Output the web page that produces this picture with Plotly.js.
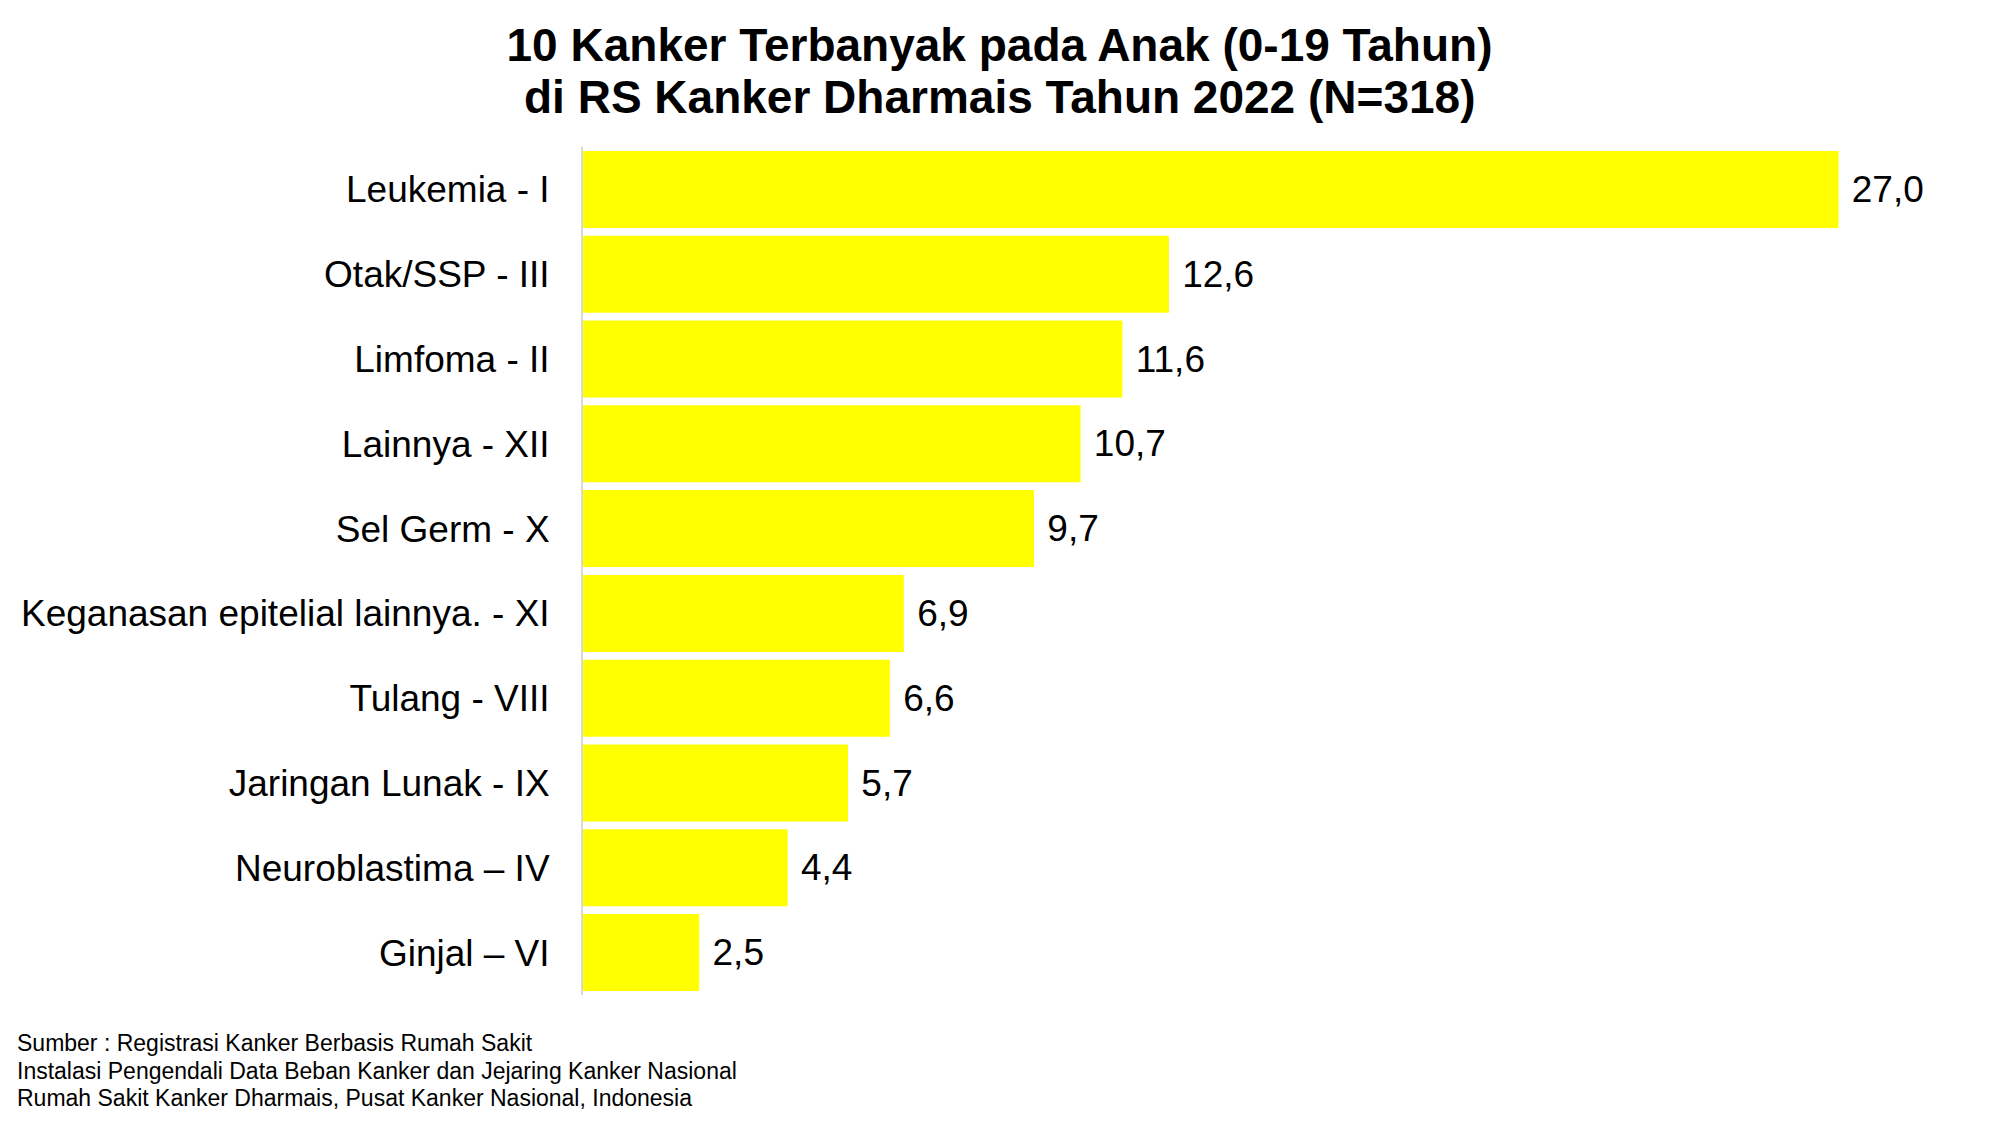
<!DOCTYPE html>
<html>
<head>
<meta charset="utf-8">
<script src="https://cdn.plot.ly/plotly-3.0.1.min.js"></script>
<style>html,body{margin:0;padding:0;background:#fff;}#chart{width:1999px;height:1126px;}</style>
</head>
<body>
<div id="chart"></div>
<script>
var categories = [
  "Leukemia - I",
  "Otak/SSP - III",
  "Limfoma - II",
  "Lainnya - XII",
  "Sel Germ - X",
  "Keganasan epitelial lainnya. - XI",
  "Tulang - VIII",
  "Jaringan Lunak - IX",
  "Neuroblastima \u2013 IV",
  "Ginjal \u2013 VI"
];
var values = [27.0, 12.6, 11.6, 10.7, 9.7, 6.9, 6.6, 5.7, 4.4, 2.5];
var titleLines = [
  "10 Kanker Terbanyak pada Anak (0-19 Tahun)",
  "di RS Kanker Dharmais Tahun 2022 (N=318)"
];
var footerLines = [
  "Sumber : Registrasi Kanker Berbasis Rumah Sakit",
  "Instalasi Pengendali Data Beban Kanker dan Jejaring Kanker Nasional",
  "Rumah Sakit Kanker Dharmais, Pusat Kanker Nasional, Indonesia"
];

var FONT = "Liberation Sans, Arial, sans-serif";
var W = 1999, H = 1126;
var mL = 583, mR = 21, mT = 147, mB = 131;
var plotH = H - mT - mB;
var plotW = W - mL - mR;

function px2paperX(px) { return (px - mL) / plotW; }
function px2paperY(py) { return (H - mB - py) / plotH; }

var trace = {
  type: "bar",
  orientation: "h",
  y: categories,
  x: values,
  marker: {color: "#FFFF00", line: {width: 0}},
  texttemplate: "\u00a0%{x:.1f}",
  textposition: "outside",
  cliponaxis: false,
  textfont: {family: FONT, size: 37, color: "#000000"},
  hoverinfo: "skip"
};

var footerY = [1043, 1071, 1098];
var annotations = footerLines.map(function (t, i) {
  return {
    text: t,
    xref: "paper", yref: "paper",
    x: px2paperX(15), xanchor: "left",
    y: px2paperY(footerY[i]), yanchor: "middle",
    showarrow: false,
    align: "left",
    font: {family: FONT, size: 23, color: "#000000"}
  };
});
annotations.push({
  text: titleLines[1],
  xref: "paper", yref: "paper",
  x: px2paperX(W / 2), xanchor: "center",
  y: px2paperY(97), yanchor: "middle",
  showarrow: false,
  font: {family: FONT, size: 46, color: "#000000", weight: "bold"}
});

var layout = {
  width: W, height: H,
  margin: {l: mL, r: mR, t: mT, b: mB, pad: 0},
  paper_bgcolor: "#ffffff",
  plot_bgcolor: "#ffffff",
  separators: ",.",
  showlegend: false,
  bargap: 0.092,
  title: {
    text: titleLines[0],
    x: 0.5, xanchor: "center", xref: "container",
    y: 1 - 45 / H, yanchor: "middle", yref: "container",
    font: {family: FONT, size: 46, color: "#000000", weight: "bold"}
  },
  xaxis: {
    range: [0, 30],
    showticklabels: false,
    showgrid: false,
    zeroline: false,
    showline: false,
    ticks: "",
    fixedrange: true
  },
  yaxis: {
    autorange: false,
    range: [categories.length - 0.5, -0.5],
    showline: true,
    linecolor: "#d9d9d9",
    linewidth: 2,
    showgrid: false,
    zeroline: false,
    ticks: "",
    ticklabelstandoff: 24,
    tickfont: {family: FONT, size: 37, color: "#000000"},
    fixedrange: true
  },
  annotations: annotations
};

Plotly.newPlot("chart", [trace], layout, {displayModeBar: false, staticPlot: true});
</script>
</body>
</html>
